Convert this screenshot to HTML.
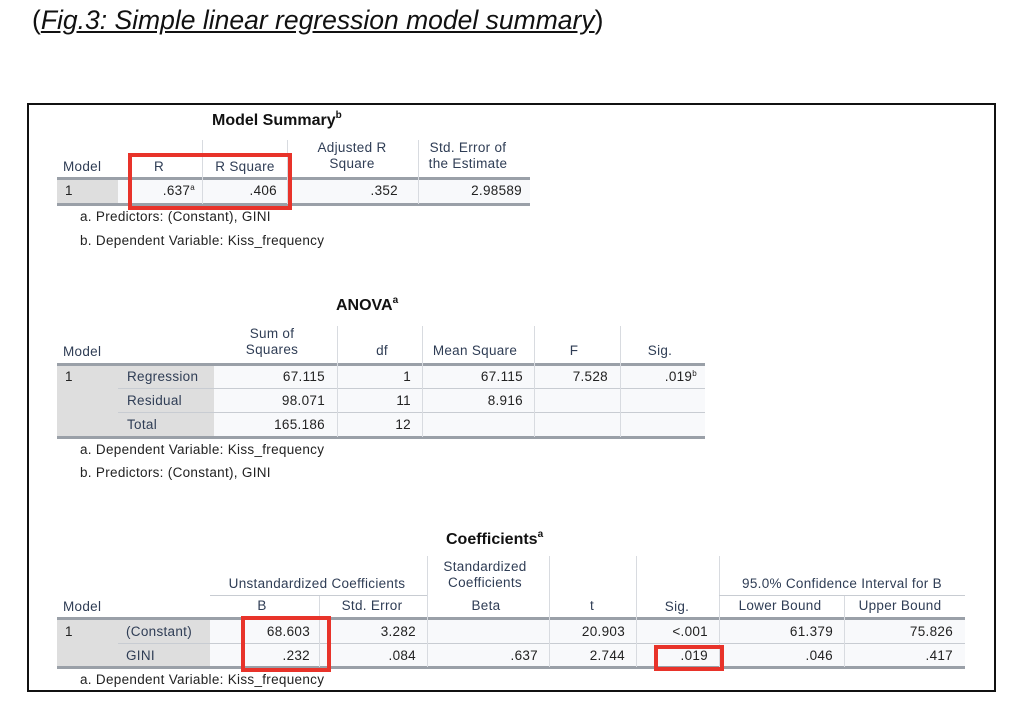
<!DOCTYPE html>
<html><head><meta charset="utf-8">
<style>
body{margin:0;width:1014px;height:712px;background:#fff;position:relative;overflow:hidden;font-family:"Liberation Sans",sans-serif;}
.a{position:absolute;}
.t{position:absolute;font-size:13.5px;line-height:16px;color:#222;white-space:nowrap;letter-spacing:0.3px;}
.h{color:#2f3d55;}
.r{text-align:right;}
.c{text-align:center;}
sup{line-height:0;vertical-align:5px;font-size:8px;}
.ttl sup{font-size:10px;vertical-align:7px;}
.gray{position:absolute;background:#dedede;}
.cell{position:absolute;background:#f8f9fb;}
.hl{position:absolute;height:3px;background:#9aa0a8;}
.tl{position:absolute;height:1px;background:#c8ccd2;}
.vl{position:absolute;width:1px;background:#d8dbe0;}
.box{position:absolute;border:4px solid #e8332a;box-sizing:border-box;}
.ttl{position:absolute;font-weight:bold;font-size:16px;line-height:18px;color:#111;}
</style></head>
<body>
<div class="a" style="left:32px;top:5px;font-size:26.5px;color:#111;">(<span style="font-style:italic;text-decoration:underline;">Fig.3: Simple linear regression model summary</span>)</div>
<div class="a" style="left:27px;top:103px;width:965px;height:585px;border:2px solid #111;"></div>
<script>
var root=document.body;
function mk(cls,x,y,w,h,name,txt){
  var el=document.createElement('div');
  el.className=cls;
  el.style.left=x+'px';el.style.top=y+'px';
  if(w!=null)el.style.width=w+'px';
  if(h!=null)el.style.height=h+'px';
  if(txt!=null)el.innerHTML=txt;
  
  
  root.appendChild(el);return el;
}
function tr(xr,y,txt,name,cls){return mk('t r '+(cls||''),xr-200,y-8,200,null,name,txt);}
function tl(x,y,txt,name,cls){return mk('t '+(cls||''),x,y-8,null,null,name,txt);}
function tc(xc,y,txt,name,cls){return mk('t c '+(cls||''),xc-100,y-8,200,null,name,txt);}

/* ---------- Model Summary ---------- */
mk('ttl',212,112,null,null,'model-summary-title','Model Summary<sup>b</sup>');
mk('gray',57,178,61,26,'ms-row-label-bg');
mk('cell',118,178,412,26,'ms-data-bg');
mk('hl',57,177,473,null,'ms-header-line');
mk('hl',57,203,473,null,'ms-bottom-line');
[202,287,418].forEach(function(x){mk('vl',x,140,null,64,'ms-col-divider');});
tl(63,167,'Model','ms-head-model','h');
tc(159,167,'R','ms-head-r','h');
tc(245,167,'R Square','ms-head-rsq','h');
tc(352,148,'Adjusted R','ms-head-adj1','h');tc(352,164,'Square','ms-head-adj2','h');
tc(468,148,'Std. Error of','ms-head-se1','h');tc(468,164,'the Estimate','ms-head-se2','h');
tl(65,191,'1','ms-model-1');
tr(195,191,'.637<sup>a</sup>','ms-r');
tr(277,191,'.406','ms-rsq');
tr(398,191,'.352','ms-adj');
tr(522,191,'2.98589','ms-se');
tl(80,217,'a. Predictors: (Constant), GINI','ms-foot-a');
tl(80,241,'b. Dependent Variable: Kiss_frequency','ms-foot-b');
mk('box',128,153,164,57,'highlight-r-box');

/* ---------- ANOVA ---------- */
mk('ttl',336,297,null,null,'anova-title','ANOVA<sup>a</sup>');
mk('gray',57,364,157,73,'anova-label-bg');
mk('cell',214,364,491,73,'anova-data-bg');
mk('hl',57,363,648,null,'anova-header-line');
mk('tl',118,388,587,null,'anova-row-line');
mk('tl',118,412,587,null,'anova-row-line');
mk('hl',57,436,648,null,'anova-bottom-line');
[337,422,534,620].forEach(function(x){mk('vl',x,326,null,111,'anova-col-divider');});
tl(63,352,'Model','anova-head-model','h');
tc(272,334,'Sum of','anova-head-ss1','h');tc(272,350,'Squares','anova-head-ss2','h');
tc(382,351,'df','anova-head-df','h');
tc(475,351,'Mean Square','anova-head-ms','h');
tc(574,351,'F','anova-head-f','h');
tc(660,351,'Sig.','anova-head-sig','h');
tl(65,377,'1','anova-model-1');
tl(127,377,'Regression','anova-reg','h');tl(127,401,'Residual','anova-res','h');tl(127,425,'Total','anova-tot','h');
tr(325,377,'67.115','anova-ss-reg');tr(325,401,'98.071','anova-ss-res');tr(325,425,'165.186','anova-ss-tot');
tr(411,377,'1','anova-df-reg');tr(411,401,'11','anova-df-res');tr(411,425,'12','anova-df-tot');
tr(523,377,'67.115','anova-ms-reg');tr(523,401,'8.916','anova-ms-res');
tr(608,377,'7.528','anova-f');
tr(697,377,'.019<sup>b</sup>','anova-sig');
tl(80,450,'a. Dependent Variable: Kiss_frequency','anova-foot-a');
tl(80,473,'b. Predictors: (Constant), GINI','anova-foot-b');

/* ---------- Coefficients ---------- */
mk('ttl',446,531,null,null,'coefficients-title','Coefficients<sup>a</sup>');
mk('gray',57,619,153,48,'coef-label-bg');
mk('cell',210,619,755,48,'coef-data-bg');
mk('hl',57,617,908,null,'coef-header-line');
mk('tl',118,643,847,null,'coef-row-line');
mk('hl',57,666,908,null,'coef-bottom-line');
[427,549,636,719].forEach(function(x){mk('vl',x,556,null,111,'coef-col-divider');});
[319,844].forEach(function(x){mk('vl',x,595,null,72,'coef-col-divider');});
mk('tl',210,595,217,null,'coef-span-line');
mk('tl',719,595,246,null,'coef-span-line');
tl(63,607,'Model','coef-head-model','h');
tc(317,584,'Unstandardized Coefficients','coef-head-unstd','h');
tc(485,567,'Standardized','coef-head-std1','h');tc(485,583,'Coefficients','coef-head-std2','h');
tc(842,584,'95.0% Confidence Interval for B','coef-head-ci','h');
tc(262,606,'B','coef-head-b','h');tc(372,606,'Std. Error','coef-head-se','h');
tc(486,606,'Beta','coef-head-beta','h');tc(592,606,'t','coef-head-t','h');
tc(677,607,'Sig.','coef-head-sig','h');tc(780,606,'Lower Bound','coef-head-lb','h');tc(900,606,'Upper Bound','coef-head-ub','h');
tl(65,632,'1','coef-model-1');
tl(126,632,'(Constant)','coef-const','h');tl(126,656,'GINI','coef-gini','h');
tr(310,632,'68.603','coef-b-const');tr(310,656,'.232','coef-b-gini');
tr(416,632,'3.282','coef-se-const');tr(416,656,'.084','coef-se-gini');
tr(538,656,'.637','coef-beta-gini');
tr(625,632,'20.903','coef-t-const');tr(625,656,'2.744','coef-t-gini');
tr(708,632,'&lt;.001','coef-sig-const');tr(708,656,'.019','coef-sig-gini');
tr(833,632,'61.379','coef-lb-const');tr(833,656,'.046','coef-lb-gini');
tr(953,632,'75.826','coef-ub-const');tr(953,656,'.417','coef-ub-gini');
tl(80,680,'a. Dependent Variable: Kiss_frequency','coef-foot-a');
mk('box',241,616,90,56,'highlight-b-box');
mk('box',654,645,70,26,'highlight-sig-box');
</script>
</body></html>
